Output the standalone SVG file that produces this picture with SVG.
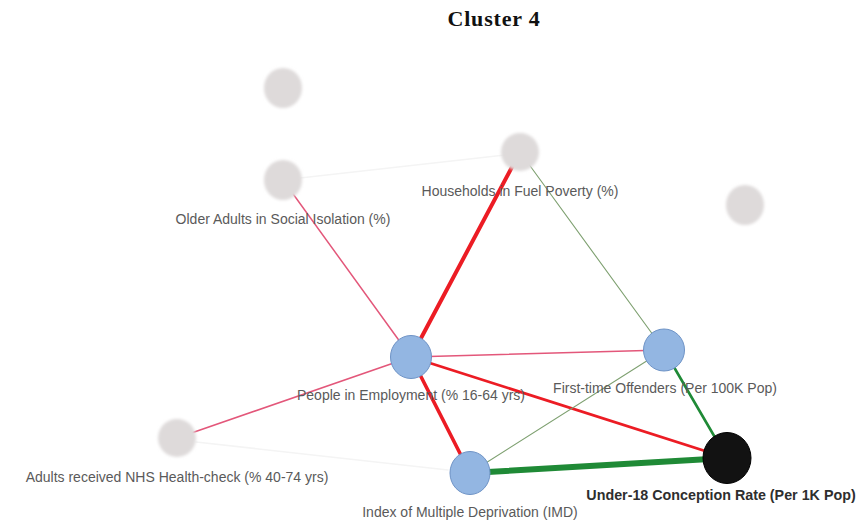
<svg xmlns="http://www.w3.org/2000/svg" width="863" height="523" viewBox="0 0 863 523">
  <defs>
    <filter id="soft" x="-50%" y="-50%" width="200%" height="200%">
      <feGaussianBlur stdDeviation="1.6"/>
    </filter>
    <style>
      .title { font-family: "Liberation Serif", "DejaVu Serif", serif; font-weight: bold; font-size: 22px; letter-spacing: 0.8px; fill: #111; }
      .lbl { font-family: "Liberation Sans", Arial, sans-serif; font-size: 14px; fill: #5a5a5a; text-anchor: middle; }
      .lbl-focus { font-family: "Liberation Sans", Arial, sans-serif; font-size: 14.3px; font-weight: bold; fill: #2e2e2e; text-anchor: middle; }
      .faded { fill: #dedada; filter: url(#soft); }
      .active { fill: #93b6e2; stroke: #6e93c6; stroke-width: 1; }
      .focus { fill: #121212; stroke: #000; stroke-width: 1; }
      .e { fill: none; stroke-linecap: round; }
      .ghost { stroke: #f4f4f4; stroke-width: 1.6; }
      .pink { stroke: #e3577a; stroke-width: 1.5; }
      .red { stroke: #ec1c24; }
      .olive { stroke: #7ea070; stroke-width: 1.1; }
      .green { stroke: #1f8a36; }
    </style>
  </defs>

  <rect width="863" height="523" fill="#ffffff"/>

  <text class="title" x="494" y="26" text-anchor="middle">Cluster 4</text>

  <!-- connectors -->
  <g id="edges">
    <line class="e ghost" x1="300" y1="178" x2="505" y2="155"/>
    <line class="e ghost" x1="196" y1="442" x2="448" y2="470"/>
    <line class="e pink" x1="283" y1="180" x2="411" y2="357"/>
    <line class="e red" stroke-width="4" x1="520" y1="152" x2="411" y2="357"/>
    <line class="e olive" x1="520" y1="152" x2="664" y2="350"/>
    <line class="e pink" stroke-width="1.8" x1="411" y1="357" x2="664" y2="350"/>
    <line class="e pink" x1="411" y1="357" x2="177" y2="438"/>
    <line class="e red" stroke-width="3.6" x1="411" y1="357" x2="470" y2="473"/>
    <line class="e red" stroke-width="2.8" x1="411" y1="357" x2="727" y2="458"/>
    <line class="e olive" stroke="#5fa85f" x1="664" y1="350" x2="470" y2="473"/>
    <line class="e green" stroke-width="2.6" x1="664" y1="350" x2="727" y2="458"/>
    <line class="e green" stroke-width="6" x1="470" y1="473" x2="727" y2="458"/>
  </g>

  <!-- nodes -->
  <g id="node-top">
    <ellipse class="faded" cx="283" cy="88" rx="19" ry="20"/>
  </g>
  <g id="node-older-adults">
    <ellipse class="faded" cx="283" cy="180" rx="19" ry="20"/>
    <text class="lbl" x="283" y="224">Older Adults in Social Isolation (%)</text>
  </g>
  <g id="node-fuel-poverty">
    <ellipse class="faded" cx="520" cy="152" rx="19" ry="19"/>
    <text class="lbl" x="520" y="196">Households in Fuel Poverty (%)</text>
  </g>
  <g id="node-right">
    <ellipse class="faded" cx="745" cy="205" rx="19" ry="20"/>
  </g>
  <g id="node-nhs-check">
    <ellipse class="faded" cx="177" cy="438" rx="19" ry="19"/>
    <text class="lbl" x="177" y="482">Adults received NHS Health-check (% 40-74 yrs)</text>
  </g>
  <g id="node-employment">
    <ellipse class="active" cx="411" cy="357" rx="20.5" ry="21.5"/>
    <text class="lbl" x="411" y="400">People in Employment (% 16-64 yrs)</text>
  </g>
  <g id="node-offenders">
    <ellipse class="active" cx="664" cy="350" rx="20.5" ry="21"/>
    <text class="lbl" x="665" y="393">First-time Offenders (Per 100K Pop)</text>
  </g>
  <g id="node-imd">
    <ellipse class="active" cx="470" cy="473" rx="20" ry="21.5"/>
    <text class="lbl" x="470" y="517">Index of Multiple Deprivation (IMD)</text>
  </g>
  <g id="node-conception">
    <ellipse class="focus" cx="727" cy="458" rx="24" ry="25.5"/>
    <text class="lbl-focus" x="721" y="500">Under-18 Conception Rate (Per 1K Pop)</text>
  </g>
</svg>
